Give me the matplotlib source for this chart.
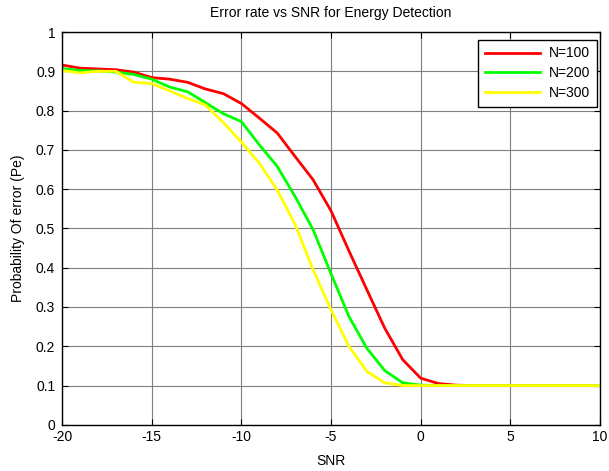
import numpy as np
import matplotlib.pyplot as plt

plt.rcParams['font.family'] = ['Liberation Sans', 'DejaVu Sans']
plt.rcParams['axes.unicode_minus'] = False

snr = np.arange(-20, 11)

# probability of error
pe_n100 = [0.916, 0.908, 0.906, 0.904, 0.898, 0.884, 0.880, 0.872, 0.855, 0.843,
           0.818, 0.781, 0.743, 0.683, 0.624, 0.545, 0.443, 0.344, 0.246, 0.166,
           0.119, 0.105, 0.101, 0.1, 0.1, 0.1, 0.1, 0.1, 0.1, 0.1, 0.1]
pe_n200 = [0.907, 0.902, 0.901, 0.898, 0.892, 0.880, 0.860, 0.848, 0.820, 0.792,
           0.772, 0.713, 0.658, 0.581, 0.497, 0.385, 0.276, 0.195, 0.138, 0.107,
           0.101, 0.1, 0.1, 0.1, 0.1, 0.1, 0.1, 0.1, 0.1, 0.1, 0.1]
pe_n300 = [0.902, 0.896, 0.900, 0.900, 0.872, 0.869, 0.850, 0.831, 0.814, 0.769,
           0.720, 0.666, 0.598, 0.510, 0.395, 0.293, 0.200, 0.136, 0.107, 0.100,
           0.1, 0.1, 0.1, 0.1, 0.1, 0.1, 0.1, 0.1, 0.1, 0.1, 0.1]

labels = ['N=100', 'N=200', 'N=300']
colors = ['#ff0000', '#00ff00', '#ffff00']

fig = plt.figure(figsize=(6.09, 4.71), dpi=100)
ax = fig.add_axes([0.102, 0.098, 0.883, 0.834])

for pe, lab, c in zip([pe_n100, pe_n200, pe_n300], labels, colors):
    ax.plot(snr, pe, color=c, linewidth=2, label=lab)

ax.set_xlim(-20, 10)
ax.set_ylim(0, 1)
ax.set_xticks(np.arange(-20, 11, 5))
ax.set_yticks(np.arange(0, 1.01, 0.1))
ax.set_yticklabels(['0', '0.1', '0.2', '0.3', '0.4', '0.5', '0.6', '0.7', '0.8', '0.9', '1'])
ax.grid(True, color='#7f7f7f', linewidth=0.8)
ax.tick_params(direction='in', top=True, right=True, labelsize=10, length=4)
ax.tick_params(axis='y', pad=5)
ax.tick_params(axis='x', pad=4)
for s in ax.spines.values():
    s.set_linewidth(1.0)

ax.set_title('Error rate vs SNR for Energy Detection', fontsize=10, pad=11)
ax.set_xlabel('SNR', fontsize=10, labelpad=7)
ax.set_ylabel('Probability Of error (Pe)', fontsize=10, labelpad=8)

leg = ax.legend(loc='upper right', fontsize=10, fancybox=False, framealpha=1,
                edgecolor='black', handlelength=4.0, handletextpad=0.6,
                borderaxespad=0.2, borderpad=0.5, labelspacing=0.4,
                bbox_to_anchor=(1.0, 0.988))
leg.get_frame().set_linewidth(1.0)

fig.savefig('out.png', dpi=100)
